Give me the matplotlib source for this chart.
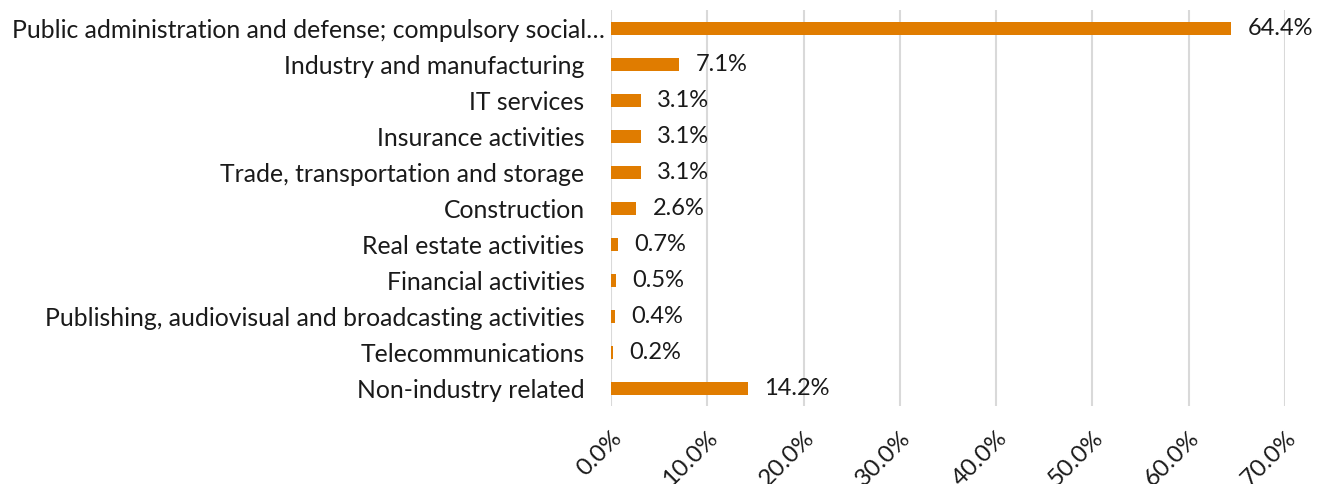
import matplotlib.pyplot as plt
import matplotlib.transforms as mtransforms
from matplotlib.ticker import FuncFormatter

plt.rcParams['font.family'] = ['Lato', 'DejaVu Sans']

categories = [
    "Public administration and defense; compulsory social\u2026",
    "Industry and manufacturing",
    "IT services",
    "Insurance activities",
    "Trade, transportation and storage",
    "Construction",
    "Real estate activities",
    "Financial activities",
    "Publishing, audiovisual and broadcasting activities",
    "Telecommunications",
    "Non-industry related",
]
values = [64.4, 7.1, 3.1, 3.1, 3.1, 2.6, 0.7, 0.5, 0.4, 0.2, 14.2]
ticks = [0, 10, 20, 30, 40, 50, 60, 70]

fig = plt.figure(figsize=(13.32, 4.84), dpi=100)
ax = fig.add_axes([0.4587, 0.161, 0.506, 0.818])

y = list(range(len(categories)))
ax.barh(y, values, height=0.36, color='#E07C00', zorder=3)
for yi, v in zip(y, values):
    ax.text(v + 1.7, yi, f"{v:.1f}%", va='center', ha='left', fontsize=17, color='#1a1a1a')

ax.set_yticks(y)
ax.set_yticklabels(categories, fontsize=17.8, color='#1a1a1a')
ax.set_ylim(len(categories) - 0.5, -0.5)
ax.set_xlim(0, 70)
ax.set_xticks(ticks)
ax.xaxis.set_major_formatter(FuncFormatter(lambda x, p: f"{x:.1f}%"))
for lab in ax.get_xticklabels():
    lab.set_rotation(45)
    lab.set_ha('right')
    lab.set_rotation_mode('anchor')
    lab.set_fontsize(17.5)
    lab.set_color('#1a1a1a')
ax.tick_params(axis='both', length=0)
ax.tick_params(axis='x', pad=15)
ax.tick_params(axis='y', pad=19)
# the truncated first label sits closer to the axis
first = ax.get_yticklabels()[0]
first.set_transform(first.get_transform() +
                    mtransforms.ScaledTranslation(20 / 100, 0, fig.dpi_scale_trans))
ax.grid(axis='x', color='#d9d9d9', linewidth=1.5, zorder=0)
for s in ax.spines.values():
    s.set_visible(False)

fig.savefig('out.png', dpi=100)
